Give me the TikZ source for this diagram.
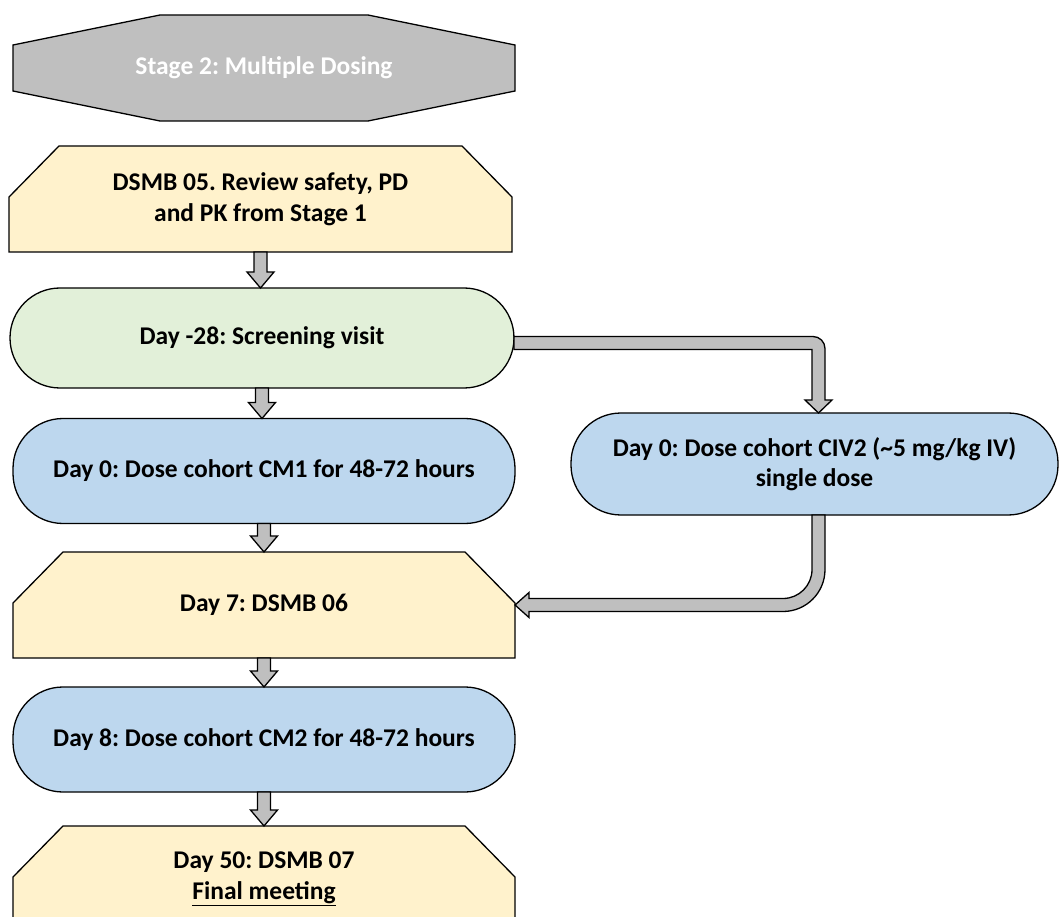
\documentclass[tikz,border=0pt]{standalone}
\usepackage{fontspec}
\setmainfont{Carlito}
\frenchspacing
\usepackage{xcolor}
\definecolor{stagegray}{HTML}{BFBFBF}
\definecolor{dsmbyellow}{HTML}{FFF2CC}
\definecolor{screengreen}{HTML}{E2F0D9}
\definecolor{doseblue}{HTML}{BDD7EE}
\definecolor{flowgray}{HTML}{BFBFBF}
\usepackage{tikz}
\usetikzlibrary{calc, backgrounds}

\tikzset{
  box/.style={rectangle, minimum width=502pt, minimum height=106pt, inner sep=0pt,
              outer sep=0pt, align=center, font=\fontsize{25.5}{30.5}\selectfont\bfseries},
  dose/.style={box, draw, line width=1.3pt, fill=doseblue, rounded corners=50pt},
  flow/.style={draw, line width=1.3pt, fill=flowgray},
}

% yellow DSMB box with the two top corners cut off
\newcommand{\cutbox}[2]{%
  \begin{pgfonlayer}{background}
    \draw[line width=1.3pt, fill=#2]
      ($(#1.north west)+(50,0)$) -- ($(#1.north east)+(-50,0)$) -- ($(#1.north east)+(0,51)$)
      -- (#1.south east) -- (#1.south west) -- ($(#1.north west)+(0,51)$) -- cycle;
  \end{pgfonlayer}}

% grey block arrow pointing down from #1 to #2
\newcommand{\flowdown}[2]{%
  \coordinate (fa) at (#1.south);
  \coordinate (fb) at (#1.south |- #2.north);
  \draw[flow] ($(fa)+(-6.5,0)$) -- ($(fa)+(6.5,0)$) -- ($(fb)+(6.5,-16)$) -- ($(fb)+(13.5,-16)$)
    -- (fb) -- ($(fb)+(-13.5,-16)$) -- ($(fb)+(-6.5,-16)$) -- cycle;}

\begin{document}
\begin{tikzpicture}[x=1pt, y=-1pt]
  \useasboundingbox (0,0) rectangle (1061,917);

  % Stage banner (top)
  \node[box, text=white] (stage) at (264,68) {Stage 2: Multiple Dosing};
  \begin{pgfonlayer}{background}
    \draw[line width=1.3pt, fill=stagegray]
      ($(stage.north west)+(147,0)$) -- ($(stage.north east)+(-147,0)$)
      -- ($(stage.north east)+(0,30)$) -- ($(stage.south east)+(0,-30)$)
      -- ($(stage.south east)+(-147,0)$) -- ($(stage.south west)+(147,0)$)
      -- ($(stage.south west)+(0,-30)$) -- ($(stage.north west)+(0,30)$) -- cycle;
  \end{pgfonlayer}

  % DSMB 05 review
  \node[box, minimum width=503pt] (dsmb5) at (260.5,199)
       {DSMB 05. Review safety, PD\\and PK from Stage 1};
  \cutbox{dsmb5}{dsmbyellow}

  % Screening visit
  \node[box, draw, line width=1.3pt, fill=screengreen, rounded corners=50pt,
        minimum width=504pt, minimum height=100pt] (screen) at (262,338)
       {Day -28: Screening visit};

  % Day 0 dosing, both cohorts
  \node[dose, minimum height=105pt] (cm1) at (264,471)
       {Day 0: Dose cohort CM1 for 48-72 hours};
  \node[dose, minimum width=487pt, minimum height=102pt] (civ) at (814.5,464)
       {Day 0: Dose cohort CIV2 (\textasciitilde 5 mg/kg IV)\\single dose};

  % Day 7 DSMB 06
  \node[box] (day7) at (264,605) {Day 7: DSMB 06};
  \cutbox{day7}{dsmbyellow}

  % Day 8 dosing
  \node[dose, minimum height=105pt] (cm2) at (264,739.5)
       {Day 8: Dose cohort CM2 for 48-72 hours};

  % Day 50 final DSMB (runs off the bottom)
  \node[box] (day50) at (264,879) {Day 50: DSMB 07\\\underline{Final meeting}};
  \cutbox{day50}{dsmbyellow}

  % Downward arrows
  \flowdown{dsmb5}{screen}
  \flowdown{screen}{cm1}
  \flowdown{cm1}{day7}
  \flowdown{day7}{cm2}
  \flowdown{cm2}{day50}

  % Screening -> CIV2 elbow
  \coordinate (e1) at ($(screen.east)+(0,5)$);
  \coordinate (k1) at ($(civ.north)+(4,0)$);
  \coordinate (c1) at (k1 |- e1);
  \draw[flow] ($(e1)+(0,-6.5)$) -- ($(c1)+(-5.5,-6.5)$)
    .. controls ($(c1)+(1.1,-6.5)$) and ($(c1)+(6.5,-1.1)$) .. ($(c1)+(6.5,5.5)$)
    -- ($(k1)+(6.5,-13)$) -- ($(k1)+(13.5,-13)$) -- (k1) -- ($(k1)+(-13.5,-13)$)
    -- ($(k1)+(-6.5,-13)$) -- ($(c1)+(-6.5,6.5)$) -- ($(e1)+(0,6.5)$) -- cycle;

  % CIV2 -> Day 7 elbow
  \coordinate (s2) at ($(civ.south)+(4,0)$);
  \coordinate (t2) at (day7.east);
  \coordinate (c2) at (s2 |- t2);
  \draw[flow] ($(s2)+(-6.5,0)$) -- ($(s2)+(6.5,0)$) -- ($(c2)+(6.5,-35.5)$)
    .. controls ($(c2)+(6.5,-12.3)$) and ($(c2)+(-12.3,6.5)$) .. ($(c2)+(-35.5,6.5)$)
    -- ($(t2)+(14,6.5)$) -- ($(t2)+(14,12.5)$) -- (t2) -- ($(t2)+(14,-12.5)$)
    -- ($(t2)+(14,-6.5)$) -- ($(c2)+(-35.5,-6.5)$)
    .. controls ($(c2)+(-19.5,-6.5)$) and ($(c2)+(-6.5,-19.5)$) .. ($(c2)+(-6.5,-35.5)$)
    -- cycle;
\end{tikzpicture}
\end{document}
